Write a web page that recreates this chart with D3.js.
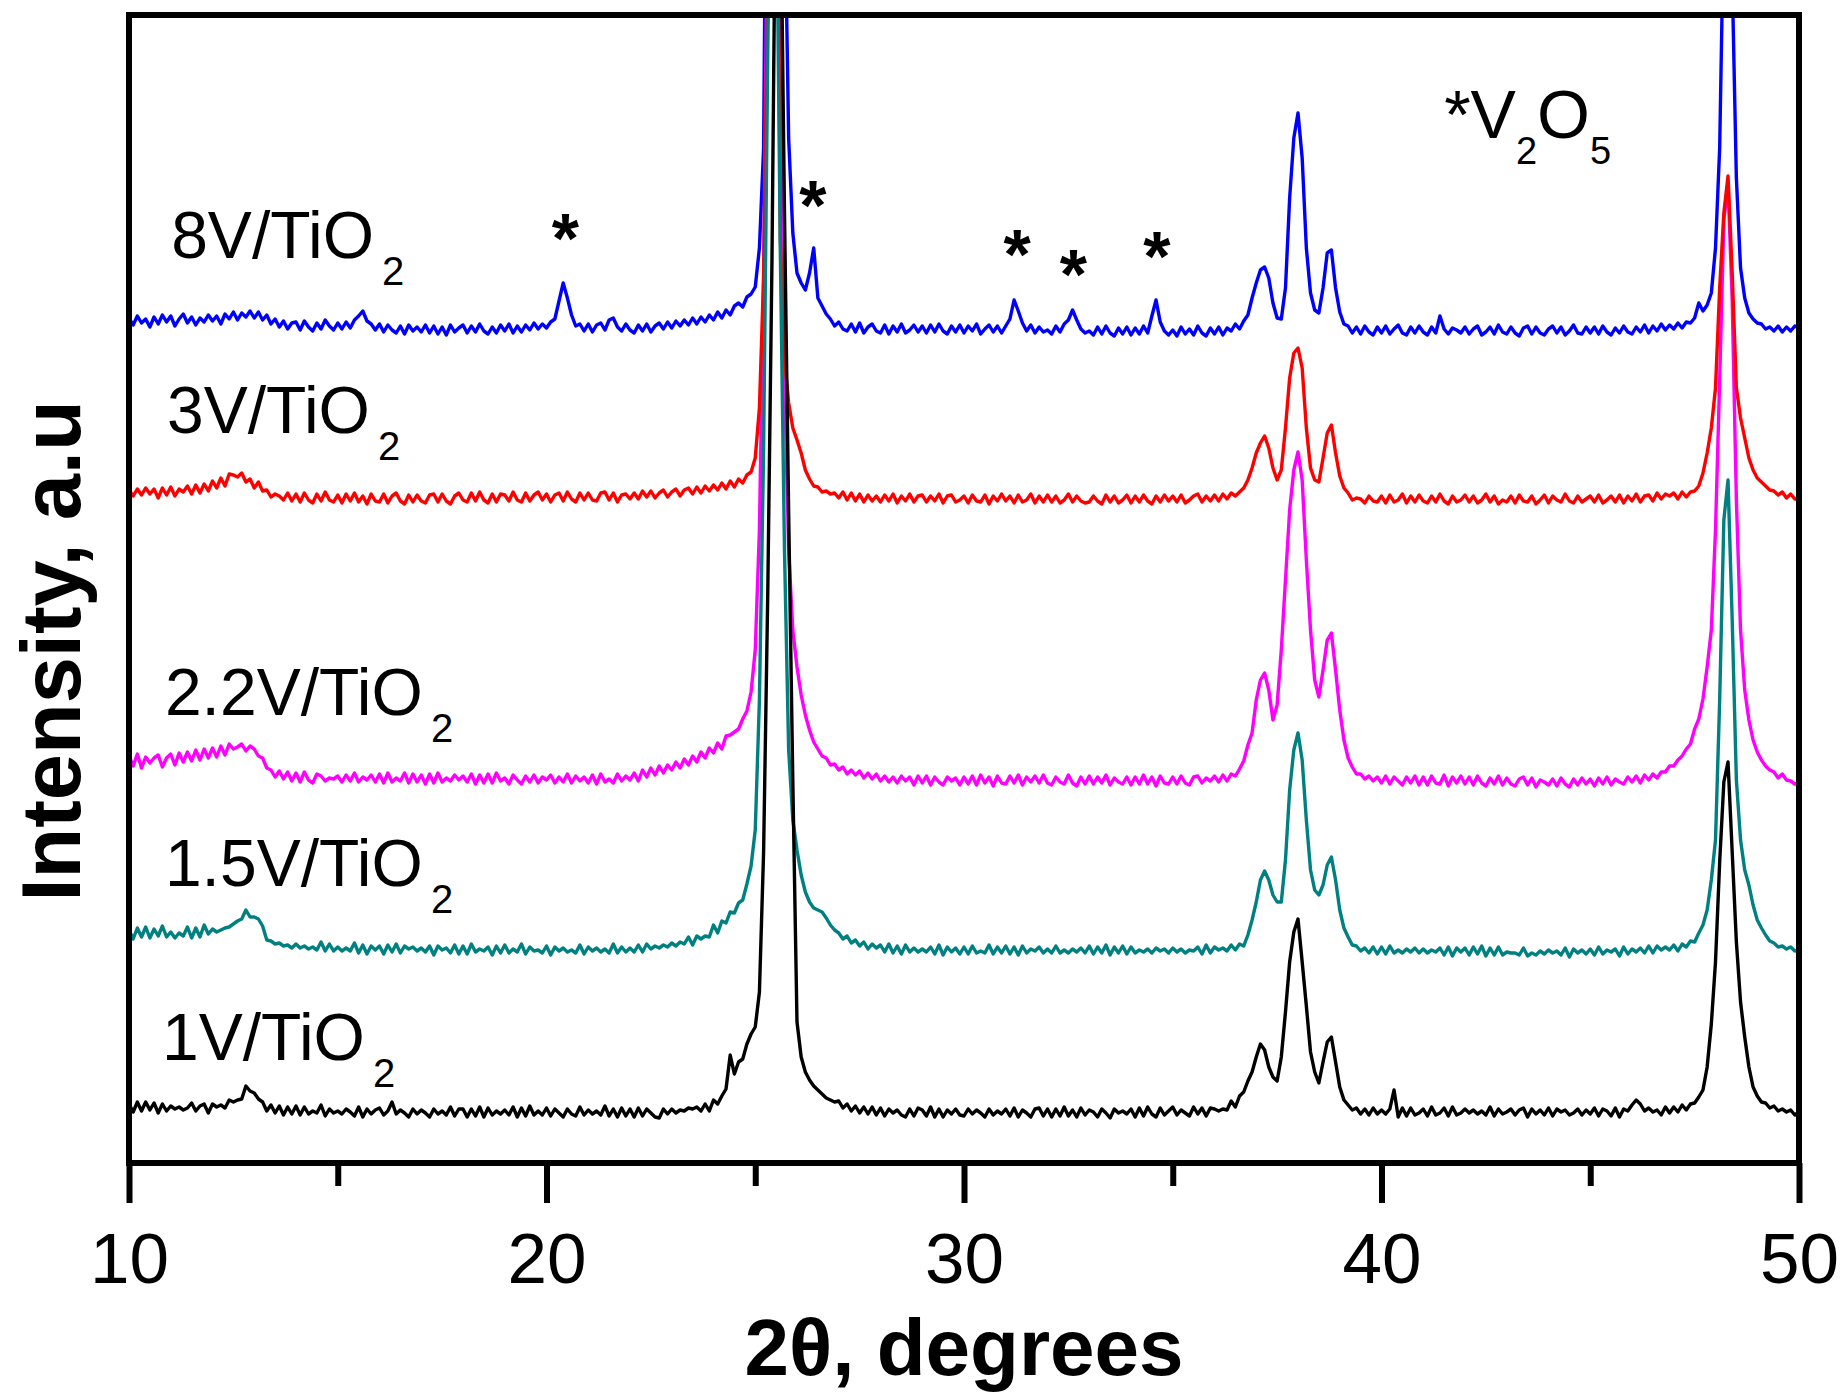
<!DOCTYPE html>
<html>
<head>
<meta charset="utf-8">
<script src="https://cdn.jsdelivr.net/npm/d3@7"></script>
<style>
  html, body { margin: 0; padding: 0; background: #fff; }
  svg { display: block; }
  text { font-family: "Liberation Sans", Arimo, Arial, Helvetica, sans-serif; fill: #000; }
</style>
</head>
<body>
<svg id="chart" width="1843" height="1394"></svg>
<script>
// XRD step scan: 2θ from 10° to 50° in 0.1° steps (401 points per pattern)
const scanStart = 10;
const scanStep = 0.1;

// Sample names (drawn top to bottom) and trace colours
const sampleNames = ["8V/TiO_2", "3V/TiO_2", "2.2V/TiO_2", "1.5V/TiO_2", "1V/TiO_2"];
const sampleColors = ["#0000ff", "#ff0000", "#ff00ff", "#008080", "#000000"];
// vertical offset of each pattern (a.u.)
const sampleOffsets = [835, 665, 383, 213, 51];

// Intensities above each pattern's own background (a.u.), one row per degree
const int8V = [
  10,3,12,5,9,1,11,4,13,6,
  12,2,9,14,5,11,3,10,6,13,
  7,12,4,14,9,16,8,15,11,17,
  10,16,8,13,4,9,1,7,-1,5,
  6,-2,7,1,-3,5,-1,8,2,-2,
  5,-1,6,0,8,12,17,7,4,-2,
  4,-4,3,-2,-5,2,-6,3,-3,1,
  -4,3,-5,2,-6,1,-7,3,-4,0,
  3,-5,2,-4,4,-3,-6,1,-5,3,
  -3,4,-5,2,-4,3,-2,5,-1,4,
  0,6,9,27,45,30,13,2,4,-3,
  4,-4,3,5,-2,8,10,1,-3,4,
  -2,-5,3,-3,4,-4,2,5,-1,6,
  0,7,2,8,3,10,4,11,6,13,
  8,16,10,18,13,22,25,21,31,34,
  41,80,180,700,1200,1300,900,450,190,95,
  55,45,38,55,80,30,22,14,9,2,
  6,-1,-3,4,-4,5,-5,1,4,-3,
  -5,3,-6,2,-4,4,-5,-2,3,-4,
  2,-5,3,-4,4,-3,-6,2,-4,3,
  -5,2,-3,4,-6,-1,3,-4,2,-5,
  2,9,28,17,5,-3,3,-5,1,-4,
  -2,-6,2,-4,4,8,18,8,-1,-5,
  -3,-7,1,-6,2,-5,-8,0,-6,1,
  -7,0,-6,2,-5,12,28,6,-3,-7,
  -2,-8,1,-6,-1,-7,2,-5,-8,0,
  -6,1,-7,0,-3,4,-1,7,13,30,
  45,58,61,50,25,10,9,40,130,190,
  215,170,80,35,18,15,40,75,78,40,
  16,4,2,-5,1,-6,2,-4,-7,1,
  -5,2,-6,-1,3,-5,-7,1,-5,2,
  -4,-7,1,-5,12,-1,-6,0,-2,-5,
  1,-6,-1,2,-7,-4,1,-6,3,-4,
  -6,1,-5,-8,0,2,-6,1,-5,-7,
  -1,2,-5,1,-7,-3,3,-5,-6,1,
  -5,1,-6,2,-4,-7,0,-5,2,-4,
  -6,1,-4,3,-5,2,-3,4,-2,3,
  -1,5,0,6,5,10,25,17,23,35,
  80,180,420,900,350,150,60,30,15,9,
  5,4,-1,1,-3,2,-4,1,-3,2,
  0
];

const int3V = [
  8,2,9,3,10,4,9,0,10,3,
  11,2,9,6,12,4,13,5,14,7,
  17,10,20,12,24,23,21,25,16,19,
  10,16,7,8,1,4,2,-2,5,-3,
  4,-4,5,-2,-5,4,-3,6,-2,-4,
  3,-5,4,-3,5,-4,2,-6,4,-3,
  -4,4,-5,2,5,-3,-6,3,-4,3,
  -3,-5,3,4,-4,4,-3,-6,2,5,
  -2,-4,5,-3,6,-2,-5,4,-4,4,
  3,-3,6,-2,-4,5,-3,3,6,-2,
  4,-4,3,5,-3,6,-1,-4,5,-2,
  5,-2,-3,5,6,-2,5,-4,3,4,
  -1,5,-1,7,1,7,0,5,8,1,
  6,9,2,8,10,4,11,5,12,7,
  13,8,15,9,17,11,19,15,23,26,
  40,90,220,520,1100,900,260,140,95,70,
  58,45,28,19,12,11,6,7,4,5,
  0,6,-2,5,-3,4,-4,3,-3,2,
  -4,3,-3,4,-5,2,-3,4,-4,2,
  3,-4,2,-3,4,-5,2,3,-4,-2,
  2,-5,3,-3,-4,3,-6,2,-3,4,
  -3,2,-5,3,-4,-2,4,-5,2,-4,
  3,-4,2,-5,-2,4,-4,2,-3,-5,
  -4,2,-3,-6,3,-4,2,-5,-2,3,
  -5,2,-4,3,-3,-6,2,-4,3,-3,
  2,-4,3,-5,-2,2,4,-4,2,-3,
  3,-3,4,-1,5,2,6,10,18,30,
  45,55,62,50,30,18,28,70,120,145,
  150,130,70,30,18,16,40,65,73,45,
  22,10,5,-2,0,-1,-5,2,-3,-4,
  2,-5,3,-4,-2,4,-5,2,-4,3,
  -3,-5,2,-4,4,-3,-6,2,-4,-2,
  3,-4,2,-5,-2,4,-4,2,-6,-2,
  -4,2,-5,3,-3,-4,2,-6,-2,3,
  -5,2,-2,-4,4,-3,-5,2,-4,-1,
  2,-4,3,-5,-2,2,-4,3,-5,2,
  -3,4,-4,2,3,-3,5,-1,4,2,
  5,-1,6,1,6,7,12,25,45,70,
  110,210,285,322,225,110,80,60,40,28,
  20,16,12,8,7,3,6,0,4,-1,
  -1
];

const int2_2V = [
  24,14,26,12,23,17,22,25,13,22,
  26,15,27,18,28,19,30,20,31,22,
  32,23,34,25,36,31,33,36,29,34,
  31,24,22,12,10,3,9,1,8,-1,
  7,-2,8,0,-3,6,4,-1,2,1,
  4,-2,5,-1,7,-2,3,0,5,-2,
  6,-3,7,-2,2,-1,7,-3,6,-2,
  5,-4,6,-3,7,-2,2,-1,5,0,
  4,-2,6,-4,5,-3,6,-3,7,-1,
  2,-4,5,0,-4,4,-2,5,-3,3,
  0,5,-3,3,-2,6,-3,4,-1,3,
  -3,5,-4,6,-2,1,-3,6,-1,4,
  0,7,-1,10,3,12,5,14,7,15,
  10,18,12,21,15,24,18,28,22,32,
  27,37,31,44,45,48,51,61,69,88,
  130,250,500,900,1200,1100,700,400,230,150,
  113,85,65,50,38,31,24,22,15,16,
  10,13,6,10,5,9,2,7,1,6,
  -1,4,-2,3,-3,4,-1,3,-5,4,
  -3,4,-5,3,-2,-5,3,-1,2,-5,
  3,-4,4,-5,5,-3,3,-6,4,-3,
  -4,4,-3,5,-5,3,-2,4,-3,5,
  -3,-5,3,-2,-4,5,-3,-6,3,-4,
  4,-4,3,-3,5,-5,2,-2,-4,3,
  -5,3,-4,5,-4,3,-6,4,-3,-4,
  3,-4,4,-3,-5,3,4,-3,2,-1,
  4,-2,5,-1,6,4,11,19,35,47,
  80,100,107,90,60,75,130,200,270,310,
  328,300,220,150,100,83,110,140,147,110,
  70,40,22,13,6,6,1,4,-1,3,
  -3,4,-4,3,-1,-5,3,-3,4,-5,
  3,-5,4,-3,-4,5,-6,3,-3,4,
  -4,3,-5,4,-3,-6,2,-4,4,-5,
  2,-4,-6,1,3,-5,2,-7,0,-2,
  -5,1,-6,2,-4,-7,1,-5,2,-4,
  1,-6,2,-4,3,-5,1,-2,-4,3,
  -2,4,-3,5,0,6,2,8,8,14,
  14,20,24,31,36,51,61,81,113,150,
  250,400,560,595,480,280,150,90,60,40,
  28,20,14,10,8,2,6,0,-1,-4,
  -3
];

const int1_5V = [
  20,11,22,13,23,12,21,14,24,13,
  18,12,17,14,23,12,22,13,25,16,
  21,18,20,22,23,26,29,31,40,33,
  33,31,24,10,9,6,7,4,5,2,
  6,2,4,1,3,0,8,-1,6,-1,
  3,-1,2,-1,7,-3,5,-4,4,0,
  4,-4,5,-2,6,-3,4,1,3,-1,
  2,-2,4,-5,4,0,2,-3,5,-4,
  4,-4,6,-2,1,-1,3,-5,4,-3,
  5,-3,1,-2,6,-4,3,-1,0,-3,
  4,-5,3,-1,2,-2,0,-3,5,-4,
  3,-1,2,-2,1,-3,6,-3,3,-2,
  2,-2,5,-2,6,1,4,2,5,3,
  7,4,8,6,13,5,14,11,14,13,
  25,17,29,27,38,37,47,50,66,84,
  120,250,500,900,1200,1100,700,400,200,130,
  100,75,58,48,42,40,38,32,25,20,
  17,11,14,7,10,4,8,1,6,2,
  5,-2,6,-3,4,-4,5,-2,2,-2,
  1,-2,3,-4,5,-5,3,-2,2,-4,
  3,-4,4,-3,-1,-3,5,-4,3,-3,
  4,-4,3,-5,4,-3,1,-1,3,-3,
  1,-3,4,-3,0,-3,1,-2,2,-3,
  4,-4,3,-3,5,-5,3,-3,4,-4,
  3,-3,0,-2,1,-3,2,-1,1,-3,
  2,-2,1,-3,0,-1,3,-4,5,-3,
  3,0,2,-1,5,0,6,4,15,30,
  48,70,79,70,55,48,48,90,160,200,
  217,190,130,80,60,55,65,85,93,70,
  40,22,13,5,4,-1,2,-3,3,-4,
  3,-4,4,-3,0,-3,1,-2,2,-3,
  1,-3,0,-2,2,-5,3,-6,2,-2,
  2,-5,3,-4,4,-6,2,-5,3,-5,
  -2,-3,-3,-5,2,-6,-3,-5,-1,-4,
  0,-3,-1,-5,2,-7,1,-3,0,-4,
  1,-5,3,-4,0,-2,1,-6,3,-4,
  1,-2,2,-3,4,-3,4,0,3,0,
  5,-1,6,3,9,8,17,25,40,70,
  110,250,430,470,330,170,110,80,65,45,
  30,22,15,9,7,3,4,1,3,-1,
  0
];

const int1V = [
  8,0,10,1,10,2,9,-1,8,1,
  6,3,5,2,4,9,1,6,8,-1,
  8,5,7,4,12,10,12,13,26,21,
  19,13,10,1,7,-1,6,-3,5,-2,
  6,-3,5,-2,1,-1,7,-4,3,-1,
  1,-2,3,0,-4,5,-5,3,-2,2,
  4,-3,1,10,-2,2,-1,-5,3,-2,
  2,-1,-5,3,-2,1,-3,5,-4,3,
  3,-5,3,-4,5,-5,4,-3,1,-2,
  2,-3,5,-5,4,-4,6,-3,1,-3,
  4,-4,3,-1,-5,3,-2,-4,5,-3,
  2,-2,1,-3,6,-4,3,-5,4,-4,
  3,-5,4,-4,3,-1,-5,-6,3,-2,
  3,-1,2,1,4,3,5,1,8,1,
  12,8,16,23,57,38,50,53,68,78,
  85,120,260,520,850,1300,1250,900,600,330,
  90,55,40,32,26,22,18,14,12,10,
  11,4,8,1,6,-1,5,-2,5,-3,
  4,-4,3,-1,2,-3,-5,3,-4,4,
  2,-4,5,-5,3,-5,2,-2,3,-3,
  -4,3,-2,2,-1,-5,3,-3,1,-2,
  3,-4,4,-5,2,-1,-5,3,4,-4,
  3,-5,3,-4,5,-4,2,-5,4,-3,
  2,0,-5,3,-1,-6,3,-1,1,-2,
  3,-5,4,-4,5,-2,-5,4,-3,1,
  5,-3,2,-1,-4,5,-2,4,-4,4,
  3,1,3,2,11,5,16,20,31,40,
  55,68,62,45,35,31,55,100,150,180,
  193,150,106,60,40,29,50,70,75,50,
  25,12,7,2,4,-2,3,-3,4,-2,
  2,-2,3,22,-5,4,-4,4,-3,-1,
  3,-4,5,-3,-1,4,-4,5,-3,-1,
  3,-1,2,-2,1,-3,5,-4,3,-2,
  0,3,-3,2,4,-5,3,-2,2,-3,
  4,-4,3,0,2,-3,-1,3,-3,2,
  -2,4,-4,3,1,-4,4,-5,3,1,
  7,12,8,1,4,0,2,-3,5,-1,
  5,0,7,2,8,9,15,22,45,88,
  150,250,330,350,260,170,110,75,45,25,
  16,10,9,4,6,1,3,0,2,-3,
  0
];

const sampleIntensities = [int8V, int3V, int2_2V, int1_5V, int1V];
// drawing order (later patterns are painted on top)
const drawOrder = [0, 2, 1, 3, 4];

// Axis ticks
const majorTicks = [10, 20, 30, 40, 50];
const minorTicks = [15, 25, 35, 45];

// Annotation anchors in data coordinates (2θ, a.u.)
const labelAnchors = [[11.01, 905], [10.91, 730], [10.86, 448], [10.86, 277], [10.79, 103]];
const v2o5Marks = [[20.45, 900], [26.38, 933], [31.27, 884], [32.62, 864], [34.62, 882]];
const legendNote = { text: "*V_2O_5", x: 41.5, y: 1025 };

// ---- layout ----
const W = 1843, H = 1394;
const plot = { left: 129, right: 1799, top: 15, bottom: 1163 };

const svg = d3.select("#chart");
const x = d3.scaleLinear().domain([10, 50]).range([plot.left, plot.right]);
const y = d3.scaleLinear().domain([0, 1148]).range([plot.bottom, plot.top]);

svg.append("rect").attr("width", W).attr("height", H).attr("fill", "#fff");

svg.append("defs").append("clipPath").attr("id", "plotClip")
  .append("rect")
  .attr("x", plot.left).attr("y", plot.top)
  .attr("width", plot.right - plot.left).attr("height", plot.bottom - plot.top);

// traces
const traces = svg.append("g").attr("clip-path", "url(#plotClip)");
drawOrder.forEach(k => {
  const vals = sampleIntensities[k];
  const off = sampleOffsets[k];
  const line = d3.line()
    .x((d, i) => x(scanStart + i * scanStep))
    .y(d => y(d + off));
  traces.append("path")
    .datum(vals)
    .attr("d", line)
    .attr("fill", "none")
    .attr("stroke", sampleColors[k])
    .attr("stroke-width", 3.4)
    .attr("stroke-linejoin", "round");
});

// frame
svg.append("rect")
  .attr("x", plot.left).attr("y", plot.top)
  .attr("width", plot.right - plot.left).attr("height", plot.bottom - plot.top)
  .attr("fill", "none").attr("stroke", "#000").attr("stroke-width", 6);

// bottom axis: major ticks with labels, minor ticks without
const majorAxis = d3.axisBottom(x).tickValues(majorTicks).tickSize(40).tickSizeOuter(0).tickFormat(d3.format("d"));
const gMajor = svg.append("g").attr("transform", `translate(0,${plot.bottom})`).call(majorAxis);
gMajor.select(".domain").remove();
gMajor.selectAll(".tick line").attr("stroke", "#000").attr("stroke-width", 6);
gMajor.selectAll(".tick text")
  .attr("y", 120).attr("dy", 0)
  .style("font-size", "71px")
  .style("font-family", '"Liberation Sans", Arimo, Arial, sans-serif')
  .attr("fill", "#000");

const minorAxis = d3.axisBottom(x).tickValues(minorTicks).tickSize(23).tickSizeOuter(0).tickFormat("");
const gMinor = svg.append("g").attr("transform", `translate(0,${plot.bottom})`).call(minorAxis);
gMinor.select(".domain").remove();
gMinor.selectAll(".tick line").attr("stroke", "#000").attr("stroke-width", 6);

// axis titles
svg.append("text")
  .attr("x", (plot.left + plot.right) / 2).attr("y", 1375)
  .attr("text-anchor", "middle")
  .style("font-size", "80px").style("font-weight", "bold")
  .text("2θ, degrees");

svg.append("text")
  .attr("transform", "translate(80,651) rotate(-90)")
  .attr("text-anchor", "middle")
  .style("font-size", "83px").style("font-weight", "bold")
  .text("Intensity, a.u");

// text with "_d" marking a subscript digit
function formula(sel, str, subSize, drop, gap) {
  const parts = str.split(/_(\d)/);
  parts.forEach((p, i) => {
    if (!p) return;
    const sub = i % 2 === 1;
    const t = sel.append("tspan").text(p);
    if (sub) {
      t.style("font-size", subSize + "px").attr("dx", gap).attr("dy", drop);
    } else if (i > 0) {
      t.attr("dy", -drop);
    }
  });
}

// sample labels
sampleNames.forEach((name, k) => {
  const [ax, ay] = labelAnchors[k];
  const t = svg.append("text")
    .attr("x", x(ax)).attr("y", y(ay))
    .style("font-size", "66px");
  formula(t, name, 40, 27, 8);
});

// V2O5 reflection markers
svg.selectAll("text.mark").data(v2o5Marks).join("text")
  .attr("class", "mark")
  .attr("x", d => x(d[0])).attr("y", d => y(d[1]))
  .attr("text-anchor", "middle")
  .style("font-size", "70px").style("font-weight", "bold")
  .text("*");

const note = svg.append("text")
  .attr("x", x(legendNote.x)).attr("y", y(legendNote.y))
  .style("font-size", "68px");
formula(note, legendNote.text, 38, 26, 0);
</script>
</body>
</html>
